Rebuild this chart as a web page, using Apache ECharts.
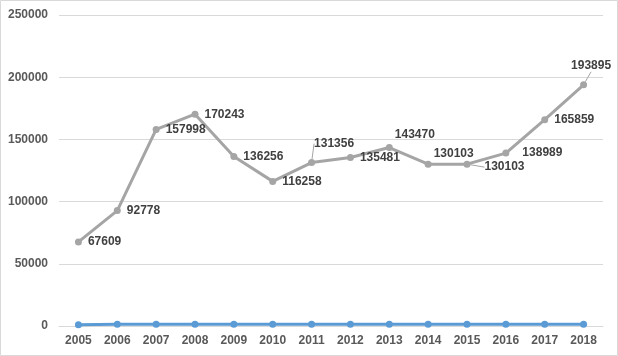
<!DOCTYPE html>
<html><head><meta charset="utf-8">
<script src="https://cdn.jsdelivr.net/npm/echarts@6/dist/echarts.min.js"></script>
<style>html,body{margin:0;padding:0;background:#fff}#c{width:618px;height:356px}</style>
</head><body><div id="c"></div>
<script>
const years = ['2005','2006','2007','2008','2009','2010','2011','2012','2013','2014','2015','2016','2017','2018'];
const greyValues = [67609, 92778, 157998, 170243, 136256, 116258, 131356, 135481, 143470, 130103, 130103, 138989, 165859, 193895];
const blueValues = [1000, 1500, 1500, 1500, 1500, 1500, 1500, 1500, 1500, 1500, 1500, 1500, 1500, 1500];
const yTicks = [0, 50000, 100000, 150000, 200000, 250000];

// label nudges (dx, dy) per point
const labelShift = {6: [-7, -19], 8: [-4, -13], 9: [-4, -10], 10: [8, 3], 11: [7, 0], 13: [-22, -19]};
const leaderIdx = [6, 10, 13];

const chart = echarts.init(document.getElementById('c'));
const font = 'Liberation Sans, Arial, sans-serif';
chart.setOption({
  animation: false,
  graphic: [{type: 'rect', shape: {x: 0.5, y: 0.5, width: 617, height: 355}, style: {fill: 'none', stroke: '#d9d9d9', lineWidth: 1}, silent: true}],
  grid: {left: 59, right: 15, top: 15, bottom: 30},
  xAxis: {
    type: 'category', data: years, boundaryGap: true,
    axisLine: {show: true, lineStyle: {color: '#d9d9d9'}},
    axisTick: {show: false},
    axisLabel: {color: '#595959', fontFamily: font, fontSize: 12, fontWeight: 'bold', margin: 9}
  },
  yAxis: {
    type: 'value', min: yTicks[0], max: yTicks[yTicks.length - 1], interval: yTicks[1] - yTicks[0],
    axisLine: {show: false}, axisTick: {show: false},
    splitLine: {lineStyle: {color: '#d9d9d9'}},
    axisLabel: {color: '#595959', fontFamily: font, fontSize: 12, fontWeight: 'bold', margin: 11, formatter: v => String(v)}
  },
  series: [
    {
      type: 'line', data: greyValues.map((v, i) => ({value: v, labelLine: {show: leaderIdx.includes(i), lineStyle: {color: '#a5a5a5', width: 1}}})),
      z: 2,
      lineStyle: {color: '#a5a5a5', width: 3},
      itemStyle: {color: '#a5a5a5'},
      symbol: 'circle', symbolSize: 7,
      label: {show: true, position: 'right', distance: 6, color: '#404040', fontFamily: font, fontSize: 12, fontWeight: 'bold'},
      labelLayout: function (p) {
        const s = labelShift[p.dataIndex];
        return s ? {dx: s[0], dy: s[1]} : {};
      }
    },
    {
      type: 'line', data: blueValues, z: 3,
      lineStyle: {color: '#5b9bd5', width: 3},
      itemStyle: {color: '#5b9bd5'},
      symbol: 'circle', symbolSize: 7
    }
  ]
});
</script></body></html>
